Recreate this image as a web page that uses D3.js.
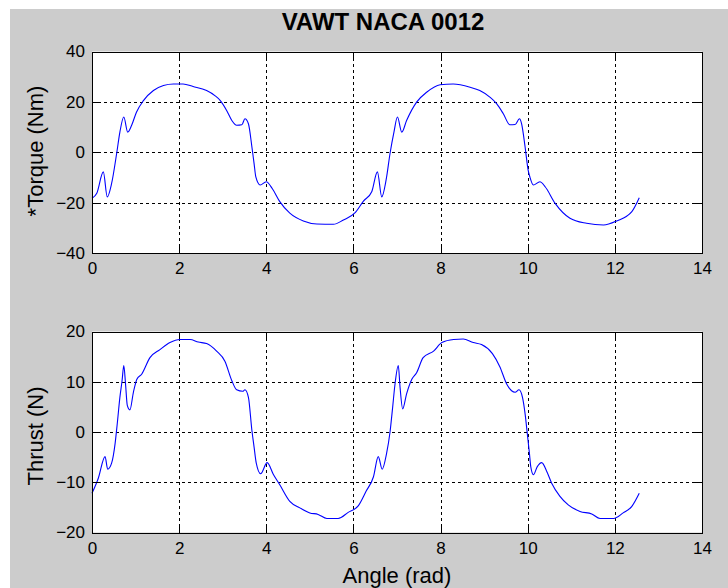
<!DOCTYPE html>
<html>
<head>
<meta charset="utf-8">
<script src="https://cdn.jsdelivr.net/npm/d3@7"></script>
<style>
  html, body { margin: 0; padding: 0; background: #ffffff; }
  svg { display: block; }
  text { font-family: "Liberation Sans", Arial, sans-serif; fill: #000; }
</style>
</head>
<body>
<svg id="fig" width="728" height="588"></svg>
<script>
// Blade angle (rad) and torque (Nm) over two revolutions
const angleTorque = [0, 0.11, 0.26, 0.35, 0.45, 0.57, 0.64, 0.73, 0.82, 0.91, 1.02, 1.18, 1.41, 1.64, 1.87, 2.09, 2.32, 2.63, 2.82, 2.94, 3.09, 3.21, 3.32, 3.44, 3.51, 3.59, 3.67, 3.72, 3.76, 3.86, 4.00, 4.14, 4.31, 4.54, 4.85, 5.16, 5.54, 5.77, 6.04, 6.23, 6.42, 6.55, 6.65, 6.75, 6.84, 6.93, 7.01, 7.11, 7.22, 7.45, 7.68, 7.99, 8.29, 8.68, 8.90, 9.13, 9.29, 9.44, 9.59, 9.71, 9.81, 9.86, 9.94, 10.01, 10.05, 10.13, 10.28, 10.40, 10.63, 10.97, 11.35, 11.74, 12.04, 12.39, 12.56];
const torque = [-18.3, -16.3, -7.8, -17.7, -12.4, 0, 8, 14, 8, 10.7, 15.9, 20.5, 24.5, 26.5, 27.1, 27.1, 26.1, 24.5, 22.5, 20.6, 16.6, 12.6, 10.7, 10.9, 13.3, 11.3, 2.1, -4.5, -9.8, -13, -11.7, -14.5, -19.6, -24.2, -27.3, -28.5, -28.6, -26.9, -24, -19.4, -15.7, -7.8, -17.7, -11, -0.5, 8, 14, 8, 12.6, 19.9, 23.8, 26.8, 27.1, 25.8, 24.5, 21.9, 19.2, 15.3, 10.9, 11.0, 13.3, 11.3, 2.1, -7.1, -9.8, -13, -11.7, -13.7, -20.3, -26.2, -28.2, -28.9, -27.3, -23.6, -18.1];

// Blade angle (rad) and thrust (N) over two revolutions
const angleThrust = [0, 0.145, 0.30, 0.36, 0.45, 0.53, 0.58, 0.64, 0.69, 0.73, 0.77, 0.81, 0.87, 0.95, 1.03, 1.14, 1.33, 1.56, 1.79, 2.02, 2.25, 2.44, 2.63, 2.86, 3.05, 3.21, 3.32, 3.46, 3.51, 3.59, 3.67, 3.72, 3.77, 3.87, 4.02, 4.16, 4.31, 4.54, 4.77, 5.00, 5.19, 5.39, 5.65, 5.88, 6.11, 6.29, 6.46, 6.57, 6.66, 6.76, 6.84, 6.90, 6.95, 7.03, 7.07, 7.13, 7.22, 7.34, 7.45, 7.60, 7.84, 8.03, 8.30, 8.52, 8.75, 8.94, 9.19, 9.36, 9.52, 9.63, 9.71, 9.80, 9.88, 9.94, 9.99, 10.04, 10.07, 10.13, 10.22, 10.32, 10.44, 10.55, 10.74, 10.93, 11.20, 11.47, 11.66, 11.97, 12.19, 12.39, 12.56];
const thrust = [-12.2, -9.2, -4.9, -7.4, -6.2, -2.3, 1.7, 6.9, 10.2, 13.2, 9.5, 5.3, 4.4, 7.9, 10.5, 11.5, 14.8, 16.4, 17.8, 18.4, 18.4, 17.9, 17.6, 16.1, 14.1, 10.2, 8.4, 8.1, 8.4, 6.9, 0.3, -3, -6.2, -8.3, -6.1, -8.4, -10.5, -13.8, -15.1, -16.1, -16.4, -17.2, -17.2, -16, -14.7, -11.8, -8.9, -4.9, -7.4, -4.3, 0, 4.9, 9.2, 13.2, 8.9, 4.6, 7.6, 10.5, 11.8, 14.8, 16.1, 17.8, 18.4, 18.5, 17.8, 17.4, 15.6, 13.0, 9.5, 8.2, 7.9, 8.4, 6.9, 3.6, -0.3, -4.3, -6.9, -8.5, -6.9, -6.1, -7.9, -10.2, -12.8, -14.5, -15.8, -16.3, -17.2, -17.2, -16.1, -14.8, -12.2];

// Axis ticks
const xTicks = [0, 2, 4, 6, 8, 10, 12, 14];
const torqueTicks = [-40, -20, 0, 20, 40];
const thrustTicks = [-20, -10, 0, 10, 20];

const titleText = "VAWT NACA 0012";
const xLabel = "Angle (rad)";
const torqueLabel = "*Torque (Nm)";
const thrustLabel = "Thrust (N)";

const svg = d3.select("#fig");
const W = 728, H = 588;

// figure background
svg.append("rect").attr("x", 10).attr("y", 9).attr("width", W - 10).attr("height", H - 9)
  .attr("fill", "#cccccc");

const left = 92, right = 702;
const x = d3.scaleLinear().domain([0, 14]).range([left, right]);

const tickFont = 17;
const labelFont = 22;

function panel(top, bottom, yDomain, yTicks, xs, ys, yLabel, yLabelCenter) {
  const y = d3.scaleLinear().domain(yDomain).range([bottom, top]);
  const g = svg.append("g");

  g.append("rect").attr("x", left).attr("y", top)
    .attr("width", right - left).attr("height", bottom - top)
    .attr("fill", "#ffffff");

  // dotted grid
  const grid = g.append("g").attr("stroke", "#000").attr("stroke-width", 1)
    .attr("stroke-dasharray", "3,3").attr("shape-rendering", "crispEdges");
  xTicks.filter(t => t > 0 && t < 14).forEach(t => {
    grid.append("line").attr("x1", Math.round(x(t)) + 0.5).attr("x2", Math.round(x(t)) + 0.5)
      .attr("y1", top).attr("y2", bottom);
  });
  yTicks.slice(1, -1).forEach(t => {
    grid.append("line").attr("y1", Math.round(y(t)) + 0.5).attr("y2", Math.round(y(t)) + 0.5)
      .attr("x1", left).attr("x2", right);
  });

  // data line
  const line = d3.line().x(d => x(d[0])).y(d => y(d[1])).curve(d3.curveMonotoneX);
  g.append("path").datum(xs.map((a, i) => [a, ys[i]]))
    .attr("d", line).attr("fill", "none").attr("stroke", "#0000ff")
    .attr("stroke-width", 1.1).attr("stroke-linejoin", "round");

  // axes with inward ticks
  const styleAxis = sel => {
    sel.select(".domain").remove();
    sel.selectAll(".tick line").attr("stroke", "#000").attr("shape-rendering", "crispEdges");
    sel.selectAll(".tick text").style("font-size", tickFont + "px")
      .style("font-family", "'Liberation Sans', Arial, sans-serif");
  };
  g.append("g").attr("transform", `translate(${left},0)`)
    .call(d3.axisLeft(y).tickValues(yTicks).tickSize(-7).tickPadding(7).tickFormat(d3.format("d")))
    .call(styleAxis);
  g.append("g").attr("transform", `translate(${right},0)`)
    .call(d3.axisRight(y).tickValues(yTicks).tickSize(-7).tickFormat(""))
    .call(styleAxis);
  g.append("g").attr("transform", `translate(0,${bottom})`)
    .call(d3.axisBottom(x).tickValues(xTicks).tickSize(-7).tickPadding(9).tickFormat(d3.format("d")))
    .call(styleAxis);
  g.append("g").attr("transform", `translate(0,${top})`)
    .call(d3.axisTop(x).tickValues(xTicks).tickSize(-7).tickFormat(""))
    .call(styleAxis);

  // box
  g.append("rect").attr("x", left + 0.5).attr("y", Math.round(top) + 0.5)
    .attr("width", right - left).attr("height", Math.round(bottom) - Math.round(top))
    .attr("fill", "none").attr("stroke", "#000").attr("stroke-width", 1)
    .attr("shape-rendering", "crispEdges");

  g.append("text").attr("transform", `translate(43,${yLabelCenter}) rotate(-90)`)
    .attr("text-anchor", "middle").style("font-size", labelFont + "px").text(yLabel);
  return y;
}

panel(51.5, 253, [-40, 40], torqueTicks, angleTorque, torque, torqueLabel, 151);
panel(331.5, 532.5, [-20, 20], thrustTicks, angleThrust, thrust, thrustLabel, 436);

svg.append("text").attr("x", 383).attr("y", 30).attr("text-anchor", "middle")
  .style("font-size", "24px").style("font-weight", "bold").text(titleText);

svg.append("text").attr("x", 397).attr("y", 583).attr("text-anchor", "middle")
  .style("font-size", labelFont + "px").text(xLabel);
</script>
</body>
</html>
